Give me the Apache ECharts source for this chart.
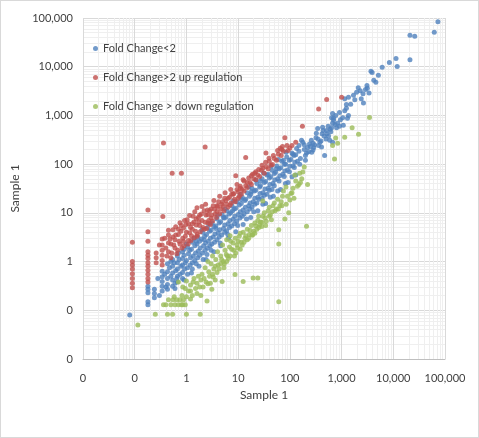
<!DOCTYPE html>
<html>
<head>
<meta charset="utf-8">
<script src="https://cdn.jsdelivr.net/npm/echarts@6/dist/echarts.min.js"></script>
<style>
html, body { margin: 0; padding: 0; background: #fff; }
#main { width: 479px; height: 438px; box-sizing: border-box; border: 1px solid #d9d9d9; }
</style>
</head>
<body>
<div id="main"></div>
<script type="text/javascript">
// legend names
var seriesNames = ['Fold Change<2', 'Fold Change>2 up regulation', 'Fold Change > down regulation'];

// [sample x, sample y]
var foldLess2 = [
  [0.08,0.08],[0.18,0.31],[0.18,0.27],[0.18,0.23],[0.18,0.15],[0.18,0.13],
  [0.24,0.27],[0.24,0.22],[0.24,0.18],
  [0.34,0.63],[0.34,0.49],[0.34,0.39],[0.34,0.31],[0.34,0.25],
  [0.43,0.9],[0.43,0.62],[0.43,0.45],[0.43,0.34],[0.43,0.27],
  [0.54,1.1],[0.54,0.8],[0.54,0.58],[0.54,0.42],[0.54,0.31],
  [0.67,1.3],[0.67,0.95],[0.67,0.7],[0.67,0.5],[0.67,0.38],
  [0.84,1.6],[0.84,1.15],[0.84,0.85],[0.84,0.6],[0.84,0.45],
  [1.05,2.0],[1.1,1.45],[1.0,1.05],[1.05,0.75],[1.05,0.55],
  [1.3,2.5],[1.25,1.8],[1.35,1.3],[1.3,0.95],[1.3,0.7],
  [1.65,3.2],[1.6,2.3],[1.7,1.65],[1.65,1.2],[1.55,0.9],
  [2.05,4.0],[1.95,2.9],[2.15,2.1],[2.05,1.5],[2.1,1.1],
  [2.55,5.0],[2.45,3.6],[2.65,2.6],[2.55,1.9],[2.5,1.4],
  [3.15,6.2],[3.0,4.4],[3.3,3.2],[3.1,2.3],
  [3.9,7.5],[3.7,5.4],[4.1,3.9],[3.9,2.8],
  [4.9,9.2],[4.6,6.6],[5.2,4.8],[4.8,3.5],
  [6.1,11],[5.8,8.2],[6.4,6],[6.0,4.3],
  [7.6,14],[7.2,10],[8.0,7.4],[7.5,5.4],
  [9.5,17],[9.0,12.5],[10,9.2],[9.4,6.8],
  [12,21],[11.5,15.5],[12.5,11.5],[12,8.5],
  [15,26],[14,19],[16,14],[15,10.5],
  [18.5,32],[17.5,24],[19.5,17],[18.5,13],
  [23,40],[22,29],[24,21],[23,16],
  [29,50],[27,36],[30,26],[29,20],
  [36,60],[34,44],[38,32],[36,24],
  [45,75],[43,55],[47,40],[45,30],
  [56,92],[53,68],[58,50],
  [70,115],[67,84],[73,62],
  [87,140],[83,100],[90,76],
  [110,170],[105,125],[115,92],
  [135,210],[130,155],[140,115],
  [0.28,0.45],[0.3,0.2],[0.38,0.55],[0.4,0.3],[0.47,0.75],[0.5,0.5],[0.58,0.95],[0.6,0.36],
  [0.62,0.65],[0.72,1.1],[0.75,0.55],[0.78,0.8],[0.9,1.35],[0.92,0.7],[0.95,0.95],
  [1.15,1.7],[1.18,0.85],[1.2,1.2],[1.45,2.1],[1.45,1.05],[1.5,1.5],[1.8,2.6],[1.8,1.35],
  [1.85,1.9],[2.25,3.3],[2.3,1.7],[2.35,2.4],[2.8,4.2],[2.85,2.1],[2.9,3.0],[3.4,5.2],
  [3.5,2.5],[3.55,3.7],[4.3,6.2],[4.3,3.2],[4.4,4.5],[5.4,7.8],[5.5,4.0],[5.5,5.6],
  [6.7,9.5],[6.8,5.0],[6.9,7.0],[8.4,12],[8.5,6.0],[8.6,8.5],[10.5,14.5],[10.8,7.8],
  [11,10.5],[13.5,18],[13,9.5],[13.8,13],[16.5,22],[16.8,12],[17,16],[20.5,28],[21,15],
  [21,20],[26,34],[25.5,19],[26.5,25],[32,42],[32,23],[33,31],[40,52],[40,29],[41,38],
  [50,64],[50,36],[51,47],[62,80],[62,45],[64,58],[78,100],[78,56],[80,72],[97,120],
  [98,70],[100,90],[120,150],[122,85],[125,110],[150,185],[155,100],[190,250],[200,120],
  [0.5,1.0],[0.7,1.5],[1.0,2.3],[1.4,3.0],[2.0,4.5],[2.8,6.0],[4.0,8.8],[5.6,12],[8.0,17.5],
  [11,24],[16,34],[22,47],[31,66],[44,92],[60,125],[85,175],
  [0.6,0.28],[0.9,0.42],[1.25,0.58],[1.75,0.8],[2.4,1.1],[3.4,1.6],[4.6,2.1],[6.5,3.0],
  [9,4.1],[12.5,5.8],[17.5,8],[24,11],[34,15.5],[48,22],[66,30],[92,42],[130,60],
  [0.65,0.45],[0.9,1.8],[1.55,2.6],[2.2,2.8],[3.0,1.7],[3.7,4.8],[4.5,2.4],[5.2,8],
  [6.3,3.6],[7.8,11],[9.8,5.5],[11.5,19],[14.5,7.5],[18,27],[20,10.5],[27,45],[30,15],
  [38,62],[42,21],[55,80],[58,28],[75,120],[82,40],[115,160],[110,55],
  [210,170],[250,230],[265,175],[320,350],[290,220],[400,300],[420,420],[360,240],
  [550,600],[500,330],[700,800],[620,460],[800,560],[950,820],[1050,900],[1150,1250],
  [1500,1700],[1700,2600],[1800,2100],[2300,3200],[2600,2800],[3400,2900],[4200,5300],[4600,4800],
  [168,310],[178,280],[260,310],[280,270],[220,220],[280,195],[590,310],[670,280],[410,225],[470,150],
  [150,240],[190,200],[240,260],[200,150],[160,130],[230,180],[300,250],[350,330],[380,280],
  [460,380],[520,420],[600,520],[560,380],[750,650],[640,560],
  [430,575],[345,540],[325,430],[510,490],[440,490],
  [840,690],[910,600],[1080,630],[670,690],
  [910,1150],[670,1100],[770,1000],[640,900],[700,870],[1360,1000],[1300,870],
  [1150,2200],[1240,1680],[1240,1400],[1360,2360],
  [1950,3000],[2100,3700],[2400,2200],[2650,1800],
  [3100,4100],[3150,3600],[2900,3400],
  [3700,8100],[3900,7600],[5150,6700],[6100,9700],[8400,12200],[11300,14800],[11900,10100],[21000,13900],
  [21000,44000],[26000,42000],[62000,51000],[73000,84000]
];

var foldUp = [
  [0.09,2.5],[0.09,1.0],[0.09,0.85],[0.09,0.7],[0.09,0.56],[0.09,0.45],[0.09,0.36],[0.09,0.29],
  [0.18,11.5],[0.18,4.1],[0.18,2.6],[0.18,1.6],[0.18,1.35],[0.18,1.15],[0.18,0.95],[0.18,0.8],
  [0.18,0.66],[0.18,0.55],[0.18,0.45],[0.18,0.38],
  [0.26,1.5],[0.26,1.2],[0.26,0.95],[0.35,8.4],
  [0.34,2.9],[0.34,2.2],[0.34,1.7],[0.34,1.35],[0.34,1.05],[0.34,0.85],
  [0.36,272],[0.53,65],[0.8,65],[2.3,225],
  [0.45,3.5],[0.45,2.4],[0.45,1.6],[0.5,1.2],[0.55,4.5],[0.6,2.8],[0.6,1.9],[0.65,1.45],
  [0.7,3.6],[0.75,2.3],[0.8,5.5],[0.85,3.0],[0.9,2.1],[1.0,4.0],[1.03,7.2],[1.1,2.7],
  [1.2,5.0],[1.25,3.4],[1.4,6.5],[1.5,4.2],[1.6,12.8],[1.6,3.3],[1.7,8],[1.8,5.5],
  [2.0,13.5],[2.0,7],[2.2,4.6],[2.4,9],[2.6,6.2],[2.8,11],[3.0,7.8],[3.3,14],[3.6,9.5],
  [3.9,10.6],[4.2,17],[4.6,12],[5.1,13.5],[5.5,20],[6,15],[7.3,16],[7.5,24],[8.5,19],
  [9,58],[10,27],[10.5,22],[12,30],[14,137],[14,36],[17,42],[19,62],[20,50],[24,60],
  [28,75],[34.5,170],[39.5,132],[43,95],[35,88],[50,130],[65,213],[72,230],[80,350],
  [88,240],[100,215],[175,600],[360,1350],[515,2120],[1000,2350],
  [0.4,1.9],[0.42,1.3],[0.48,2.9],[0.52,1.5],[0.57,2.2],[0.62,3.5],[0.68,1.7],[0.72,2.6],
  [0.78,4.2],[0.82,1.9],[0.88,2.6],[0.95,3.3],[0.98,5.8],[1.08,2.3],[1.15,3.9],[1.22,2.7],
  [1.3,4.6],[1.35,8.5],[1.42,3.1],[1.55,5.6],[1.62,3.6],[1.75,6.5],[1.85,4.1],[1.95,9.5],
  [2.1,5.0],[2.3,6.4],[2.45,4.8],[2.55,11.5],[2.7,7.0],[2.9,5.8],[3.1,9.0],[3.2,6.8],
  [3.5,11.8],[3.8,8.0],[4.0,13.5],[4.4,9.6],[4.8,15],[5.3,11],[5.8,18],[6.3,13],[6.8,21],
  [7.0,14.5],[8.0,24],[8.8,17],[9.5,30],[10,20],[11,35],[11.5,24],[13,45],[13,28],[15,33],
  [16,52],[18,38],[22,48],[22,70],[26,56],[30,82],[32,65],[38,80],[46,98],[55,120],
  [60,160],[68,150],[75,185],[92,190],[110,240],[130,280],
  [0.3,2.2],[0.38,3.0],[0.45,4.4],[0.5,2.3],[0.55,3.2],[0.62,5.2],[0.7,4.6],[0.75,6.3],
  [0.88,4.9],[0.92,7.0],[1.1,6.0],[1.15,8.8],[1.3,6.0],[1.45,10.5],[1.55,7.5],[1.8,9.0],
  [2.2,11],[2.35,15],[2.6,9.2],[3.0,12],[3.4,18],[3.9,14],[4.4,22],[5.0,17],[5.6,26],
  [6.4,20],[7.2,30],[8.2,25],[9.5,38],[11,32],[12.5,48],[15,42],[18,58],[21,65],[25,78],
  [29,95],[34,110],[40,115],[48,150],[58,190],[70,200]
];

var foldDown = [
  [0.115,0.05],[0.25,0.083],[0.43,0.083],[0.54,0.083],[1.0,0.083],[1.85,0.083],
  [0.4,0.13],[0.5,0.13],[0.6,0.13],[0.7,0.13],[0.8,0.13],[0.95,0.13],
  [0.45,0.165],[0.55,0.165],[0.65,0.165],[0.75,0.165],[0.88,0.165],
  [0.7,0.38],[0.85,0.3],[1.0,0.4],[1.2,0.33],[1.4,0.45],[1.6,0.36],[1.9,0.42],[1.1,0.25],
  [1.5,0.28],[1.3,0.2],
  [2.5,0.155],[3.1,0.27],[4.9,0.39],[8.7,0.54],[12.5,0.39],[19.5,0.46],[24,0.46],[61,0.15],
  [2.0,0.55],[2.3,0.75],[2.7,0.62],[3.0,0.9],[3.4,0.7],[3.7,1.1],[4.1,0.85],[4.6,1.3],
  [5.2,1.0],[5.6,1.7],[6.2,1.3],[6.8,2.0],[7.2,2.6],[8.2,1.7],[8.8,3.0],[9.5,2.2],
  [10.5,3.3],[11.5,2.5],[12.5,4.0],[13.5,3.0],[15,4.6],[16.5,3.6],[18,5.5],[20,4.2],
  [22,5.4],[24,7.0],[26,5.6],[28.6,5.25],[30,8.5],[30,17.6],[33,7.9],[38,11],[44,7.2],
  [47,14],[52,11],[58,19],[61,4.5],[61,2.3],[64,14],[72,22],[80,7.5],[84,34],[95,10],
  [100,18.4],[115,32],[125,60],[155,65],[160,42],[178,69],[190,87],[210,5.3],[220,38],
  [4.0,1.6],[5,2.2],[6,2.8],[7,3.4],[3.2,1.3],[2.6,1.0],
  [0.36,0.13],[0.85,0.13],[0.58,0.19],[0.82,0.2],[1.0,0.19],[1.2,0.17],[0.95,0.28],
  [1.35,0.38],[1.7,0.5],[1.8,0.3],[2.2,0.45],[2.4,0.38],[2.8,0.5],[3.3,0.48],[3.6,0.8],
  [4.3,0.7],[4.8,1.1],[5.4,0.9],[5.9,1.4],[6.5,1.15],[7.5,1.8],[8,2.4],[9,1.5],[10,2.6],
  [11,3.8],[12,2.2],[14,3.4],[15,2.8],[17,4.4],[19,3.5],[21,6.2],[23,4.6],[25,8.5],
  [27,6.5],[32,10],[35,6.7],[40,13],[42,9],[50,16],[55,12],[68,17],[75,28],[90,22],
  [105,25],[130,45],[140,35],
  [1.2,0.25],[1.6,0.22],[2.1,0.3],[2.6,0.35],[3.2,0.55],[3.9,0.6],[4.6,0.9],[5.3,0.75],
  [6.0,1.0],[7.0,1.3],[8.5,1.3],[9.8,1.9],[11,1.8],[13,2.5],[16,3.0],[18.5,3.5],[21,3.8],
  [25,5.0],[29,6.4],[34,5.5],[40,8.5],[46,10.5],[60,12],[70,14],[85,15],[110,26],[120,20],
  [150,38],[170,50],[2.9,0.36],[3.6,0.42],[1.9,0.2],
  [730,127],[770,345],[840,270],[670,240],[1150,355],[1600,560],[2130,410],[3470,910]
];

var seriesColors = ['#4f81bd', '#c0504d', '#9bbb59'];
var seriesData = [foldLess2, foldUp, foldDown];

var chart = echarts.init(document.getElementById('main'));

function tickLabel(v) {
  if (v < 1) return '0';
  return Math.round(v).toLocaleString('en-US');
}

function logAxis(extra) {
  var ax = {
    type: 'log',
    logBase: 10,
    min: 0.01,
    max: 100000,
    name: 'Sample 1',
    nameLocation: 'middle',
    nameTextStyle: { fontFamily: 'Lato', fontSize: 12, color: '#404040' },
    axisLine: { show: false },
    axisTick: { show: false },
    axisLabel: { formatter: tickLabel, fontFamily: 'Lato', fontSize: 11, color: '#404040' },
    splitLine: { show: true, lineStyle: { color: '#d9d9d9', width: 1 } },
    minorTick: { show: false, splitNumber: 9 },
    minorSplitLine: { show: true, lineStyle: { color: '#efefef', width: 1 } }
  };
  for (var k in extra) ax[k] = extra[k];
  return ax;
}

var option = {
  animation: false,
  backgroundColor: '#ffffff',
  grid: { left: 82, right: 33, top: 17, bottom: 78 },
  legend: {
    orient: 'vertical',
    left: 87,
    top: 37,
    itemWidth: 5,
    itemHeight: 5,
    itemGap: 18,
    icon: 'circle',
    textStyle: { fontFamily: 'Lato', fontSize: 11, color: '#404040' },
    data: seriesNames
  },
  xAxis: logAxis({
    nameGap: 30,
    axisLine: { show: true, lineStyle: { color: '#bfbfbf' } },
    axisLabel: { formatter: tickLabel, fontFamily: 'Lato', fontSize: 11, color: '#404040', margin: 14 }
  }),
  yAxis: logAxis({
    nameGap: 50,
    axisLabel: { formatter: tickLabel, fontFamily: 'Lato', fontSize: 11, color: '#404040', margin: 10 }
  }),
  series: seriesNames.map(function (name, i) {
    return {
      name: name,
      type: 'scatter',
      symbolSize: 5,
      itemStyle: { color: seriesColors[i] },
      data: seriesData[i]
    };
  })
};

chart.setOption(option);
</script>
</body>
</html>
